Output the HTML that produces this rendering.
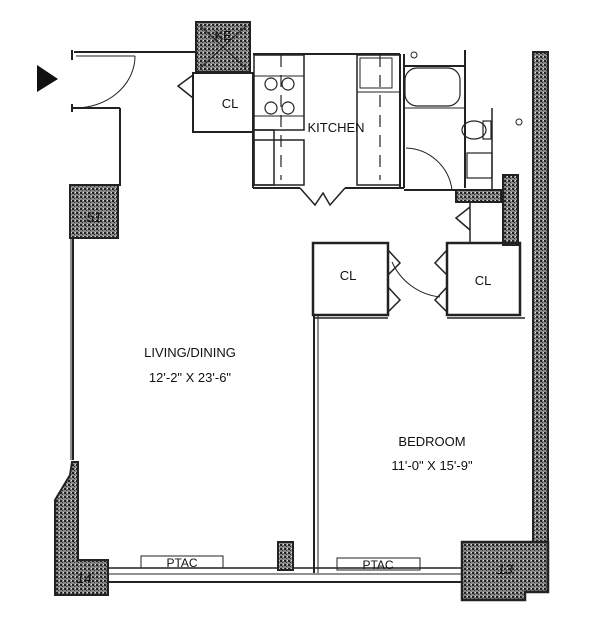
<!DOCTYPE html>
<html><head><style>
html,body{margin:0;padding:0;background:#fff;}
svg{display:block;}
text{font-family:"Liberation Sans",sans-serif;fill:#111;}
</style></head><body>
<svg width="600" height="618" viewBox="0 0 600 618">
<defs>
<pattern id="h" width="4" height="4" patternUnits="userSpaceOnUse">
<rect width="4" height="4" fill="#888"/><rect width="2" height="2" fill="#222"/><rect x="2" y="2" width="1" height="1" fill="#333"/><rect x="3" y="0" width="1" height="1" fill="#ddd"/>
</pattern>
</defs>
<g fill="none" stroke="#222" stroke-width="2">
<polygon points="37,65 58,79 37,92" fill="#111" stroke="none"/>
<line x1="72" y1="50" x2="72" y2="60"/><line x1="72" y1="104" x2="72" y2="112"/>
<line x1="74" y1="52" x2="196" y2="52"/>
<line x1="76" y1="56" x2="135" y2="56" stroke-width="1"/>
<path d="M135,56 A60,52 0 0 1 74,108" stroke-width="1"/>
<line x1="72" y1="108" x2="120" y2="108"/>
<line x1="120" y1="108" x2="120" y2="186"/>
<line x1="73" y1="238" x2="73" y2="460"/>
<line x1="71" y1="238" x2="71" y2="460" stroke-width="1"/>
<rect x="196" y="22" width="54" height="50" fill="url(#h)"/>
<text x="223" y="40" font-size="13" text-anchor="middle" stroke="none">KE</text>
<line x1="200" y1="26" x2="246" y2="68" stroke-width="1"/><line x1="246" y1="26" x2="200" y2="68" stroke-width="1"/>
<rect x="193" y="73" width="60" height="59"/>
<polyline points="193,75 178,86 193,98" stroke-width="1.5"/>
<line x1="253" y1="54" x2="400" y2="54"/>
<rect x="254" y="55" width="50" height="75" stroke-width="1.5"/>
<line x1="254" y1="76" x2="304" y2="76" stroke-width="1"/><line x1="254" y1="116" x2="304" y2="116" stroke-width="1"/>
<circle cx="271" cy="84" r="6" stroke-width="1.2"/><circle cx="288" cy="84" r="6" stroke-width="1.2"/>
<circle cx="271" cy="108" r="6" stroke-width="1.2"/><circle cx="288" cy="108" r="6" stroke-width="1.2"/>
<rect x="254" y="130" width="20" height="55" stroke-width="1.5"/>
<rect x="254" y="140" width="50" height="45" stroke-width="1.5"/>
<line x1="281" y1="55" x2="281" y2="180" stroke-width="1.2" stroke-dasharray="12,8"/>
<rect x="357" y="55" width="43" height="130" stroke-width="1.5"/>
<rect x="360" y="58" width="32" height="30" stroke-width="1"/>
<line x1="380" y1="55" x2="380" y2="180" stroke-width="1.2" stroke-dasharray="12,8"/>
<line x1="357" y1="92" x2="400" y2="92" stroke-width="1"/>
<line x1="400" y1="54" x2="400" y2="188"/><line x1="404" y1="54" x2="404" y2="188"/>
<line x1="253" y1="132" x2="253" y2="188"/>
<line x1="253" y1="188" x2="300" y2="188"/><line x1="345" y1="188" x2="404" y2="188"/>
<polyline points="300,188 315,205 323,193 330,205 345,188" stroke-width="1.5"/>
<line x1="404" y1="66" x2="465" y2="66"/>
<line x1="465" y1="50" x2="465" y2="188"/>
<rect x="405" y="68" width="55" height="38" rx="12" stroke-width="1.2"/>
<line x1="404" y1="108" x2="465" y2="108" stroke-width="1"/>
<ellipse cx="474" cy="130" rx="12" ry="9" stroke-width="1.2"/>
<rect x="483" y="121" width="8" height="18" stroke-width="1.2"/>
<circle cx="519" cy="122" r="3" stroke-width="1"/>
<circle cx="414" cy="55" r="3" stroke-width="1"/>
<rect x="467" y="153" width="25" height="25" stroke-width="1.2"/>
<path d="M406,148 A48,48 0 0 1 452,190" stroke-width="1"/>
<line x1="404" y1="190" x2="500" y2="190"/>
<line x1="492" y1="108" x2="492" y2="190" stroke-width="1.5"/>
<rect x="456" y="190" width="45" height="12" fill="url(#h)"/>
<rect x="503" y="175" width="15" height="70" fill="url(#h)"/>
<rect x="533" y="52" width="15" height="490" fill="url(#h)"/>
<rect x="313" y="243" width="75" height="72" stroke-width="2.5"/>
<polyline points="388,250 400,263 388,275" stroke-width="1.5"/>
<polyline points="388,287 400,300 388,312" stroke-width="1.5"/>
<path d="M392,262 A60,60 0 0 0 440,297" stroke-width="1"/>
<rect x="447" y="243" width="73" height="72" stroke-width="2.5"/>
<polyline points="447,250 435,263 447,275" stroke-width="1.5"/>
<polyline points="447,287 435,300 447,312" stroke-width="1.5"/>
<line x1="470" y1="202" x2="470" y2="243" stroke-width="1.5"/>
<polyline points="470,207 456,218 470,230" stroke-width="1.5"/>
<line x1="313" y1="318" x2="388" y2="318" stroke-width="1.5"/>
<line x1="447" y1="318" x2="525" y2="318" stroke-width="1.5"/>
<line x1="314" y1="315" x2="314" y2="573"/><line x1="318" y1="315" x2="318" y2="573" stroke-width="1"/>
<line x1="108" y1="568" x2="480" y2="568" stroke-width="1.5"/>
<line x1="108" y1="574" x2="480" y2="574" stroke-width="1"/>
<line x1="108" y1="582" x2="480" y2="582" stroke-width="2"/>
<rect x="141" y="556" width="82" height="12" stroke-width="1"/>
<rect x="337" y="558" width="83" height="12" stroke-width="1"/>
<rect x="278" y="542" width="15" height="28" fill="url(#h)"/>
<path d="M72,462 L70,475 L55,500 L55,595 L108,595 L108,560 L78,560 L78,462 Z" fill="url(#h)"/>
<text x="84" y="583" font-size="14" font-style="italic" text-anchor="middle" stroke="none">14</text>
<path d="M462,542 L548,542 L548,592 L525,592 L525,600 L462,600 Z" fill="url(#h)" stroke-width="2.5"/>
<text x="505" y="574" font-size="14" font-style="italic" text-anchor="middle" stroke="none">13</text>
<rect x="70" y="185" width="48" height="53" fill="url(#h)"/>
<text x="94" y="222" font-size="14" font-style="italic" text-anchor="middle" stroke="none">51</text>
</g>
<g font-size="13" text-anchor="middle">
<text x="230" y="108">CL</text>
<text x="336" y="132">KITCHEN</text>
<text x="348" y="280">CL</text>
<text x="483" y="285">CL</text>
<text x="190" y="357">LIVING/DINING</text>
<text x="190" y="382">12'-2" X 23'-6"</text>
<text x="432" y="446">BEDROOM</text>
<text x="432" y="470">11'-0" X 15'-9"</text>
<text x="182" y="567" font-size="12">PTAC</text>
<text x="378" y="569" font-size="12">PTAC</text>
</g>
</svg>
</body></html>
